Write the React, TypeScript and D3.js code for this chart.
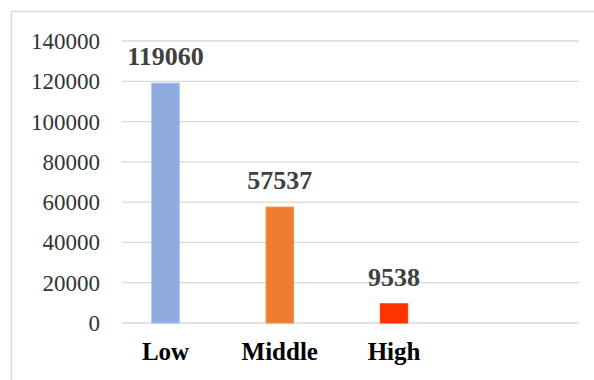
import React from "react";
import * as d3 from "d3";

const categories = ["Low", "Middle", "High"];
const values = [119060, 57537, 9538];
const barColors = ["#8FAADC", "#ED7D31", "#FF3300"];
const yTicks = [0, 20000, 40000, 60000, 80000, 100000, 120000, 140000];

export default function App() {
  const W = 594, H = 380;
  const y = d3.scaleLinear().domain([0, 140000]).range([323, 41]);
  const x = d3
    .scaleBand<string>()
    .domain(categories)
    .range([108.4, 451.15])
    .paddingInner(0.76)
    .paddingOuter(0.38);
  const gridX0 = 122, gridX1 = 579;
  const fontStyle = { fontFamily: "Liberation Serif, Times New Roman, serif" };
  return (
    <svg
      width={W}
      height={H}
      style={{ position: "absolute", left: 0, top: 0, background: "#fff" }}
    >
      <rect x={11.5} y={11.5} width={W} height={H} fill="none" stroke="#D9D9D9" strokeWidth={1.5} />
      {yTicks.map((t) => (
        <g key={t}>
          <line x1={gridX0} x2={gridX1} y1={y(t)} y2={y(t)} stroke="#D9D9D9" strokeWidth={1.3} />
          <text
            x={100}
            y={y(t)}
            dy="0.35em"
            textAnchor="end"
            style={fontStyle}
            fontSize={23}
            fill="#333"
          >
            {t}
          </text>
        </g>
      ))}
      {categories.map((c, i) => {
        const bx = x(c)!;
        const bw = x.bandwidth();
        const cx = bx + bw / 2;
        return (
          <g key={c}>
            <rect
              x={bx}
              y={y(values[i])}
              width={bw}
              height={y(0) - y(values[i])}
              fill={barColors[i]}
              stroke={d3.color(barColors[i])!.brighter(0.3).toString()}
              strokeWidth={1}
            />
            <text
              x={cx}
              y={y(values[i]) - 18}
              textAnchor="middle"
              style={fontStyle}
              fontWeight="bold"
              fontSize={26}
              fill="#404040"
            >
              {values[i]}
            </text>
            <text
              x={cx}
              y={360}
              textAnchor="middle"
              style={fontStyle}
              fontWeight="bold"
              fontSize={25}
              fill="#000"
            >
              {c}
            </text>
          </g>
        );
      })}
    </svg>
  );
}
